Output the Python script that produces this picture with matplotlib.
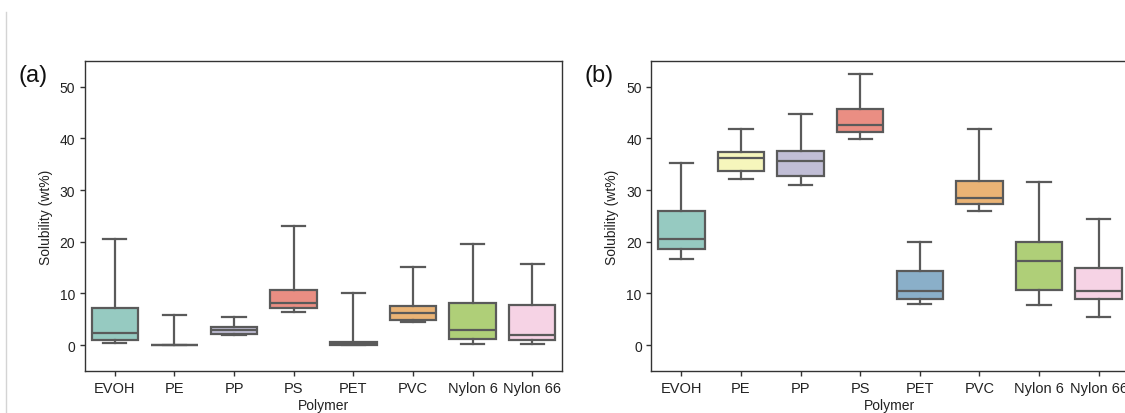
import matplotlib
matplotlib.use("Agg")
import matplotlib.pyplot as plt
from matplotlib.lines import Line2D
import seaborn as sns

plt.rcParams['font.family'] = ['Liberation Sans', 'DejaVu Sans']

polymers = ['EVOH', 'PE', 'PP', 'PS', 'PET', 'PVC', 'Nylon 6', 'Nylon 66']

# panel (a): whisker low, q1, median, q3, whisker high
a_low = [0.4, 0.1, 1.9, 6.5, 0.0, 4.5, 0.3, 0.3]
a_q1 = [1.0, 0.1, 2.1, 7.1, 0.1, 4.9, 1.2, 1.0]
a_med = [2.3, 0.1, 2.9, 8.1, 0.4, 6.2, 3.0, 1.9]
a_q3 = [7.1, 0.1, 3.5, 10.7, 0.7, 7.6, 8.2, 7.7]
a_high = [20.5, 5.8, 5.4, 23.1, 10.1, 15.2, 19.5, 15.8]

# panel (b)
b_low = [16.7, 32.2, 31.0, 39.9, 8.0, 26.0, 7.8, 5.4]
b_q1 = [18.6, 33.7, 32.8, 41.3, 9.0, 27.3, 10.7, 8.9]
b_med = [20.5, 36.2, 35.6, 42.6, 10.5, 28.5, 16.3, 10.5]
b_q3 = [25.9, 37.3, 37.5, 45.7, 14.4, 31.7, 19.9, 14.9]
b_high = [35.3, 41.9, 44.7, 52.5, 19.9, 41.9, 31.5, 24.4]

colors = sns.color_palette('Set3', len(polymers), desat=0.75)
line_c = '#5a5a5a'


def draw(ax, low, q1, med, q3, high, tag):
    stats = []
    for i, name in enumerate(polymers):
        stats.append(dict(label=name, whislo=low[i], q1=q1[i], med=med[i],
                          q3=q3[i], whishi=high[i], fliers=[]))
    lp = dict(color=line_c, linewidth=1.6)
    bp = ax.bxp(stats, positions=range(len(polymers)), widths=0.78,
                patch_artist=True, showfliers=False,
                boxprops=dict(edgecolor=line_c, linewidth=1.6),
                whiskerprops=lp, capprops=lp, medianprops=lp)
    for patch, c in zip(bp['boxes'], colors):
        patch.set_facecolor(c)
    ax.set_xlim(-0.5, len(polymers) - 0.5)
    ax.set_ylim(-5, 55)
    ax.set_yticks([0, 10, 20, 30, 40, 50])
    ax.tick_params(axis='both', labelsize=10, length=3.5, width=1,
                   color='#333333', labelcolor='#222222')
    ax.tick_params(axis='x', labelsize=10.5)
    for s in ax.spines.values():
        s.set_color('#333333')
        s.set_linewidth(1)
    ax.set_xlabel('Polymer', fontsize=10, color='#222222', labelpad=2)
    ax.set_ylabel('Solubility (wt%)', fontsize=10, color='#222222', labelpad=5)
    ax.text(-0.109, 0.955, tag, transform=ax.transAxes, fontsize=17,
            ha='center', va='center', color='#111111')


fig = plt.figure(figsize=(11.25, 4.14), dpi=100)
ax1 = fig.add_axes([0.0756, 0.1014, 0.424, 0.749])
ax2 = fig.add_axes([0.5791, 0.1014, 0.424, 0.749])
draw(ax1, a_low, a_q1, a_med, a_q3, a_high, '(a)')
draw(ax2, b_low, b_q1, b_med, b_q3, b_high, '(b)')

# faint page edge on the left
fig.add_artist(Line2D([6 / 1125, 6 / 1125], [0, 1 - 13 / 414],
                      transform=fig.transFigure, color='#d4d4d4', linewidth=1))

fig.savefig('out.png', dpi=100)
